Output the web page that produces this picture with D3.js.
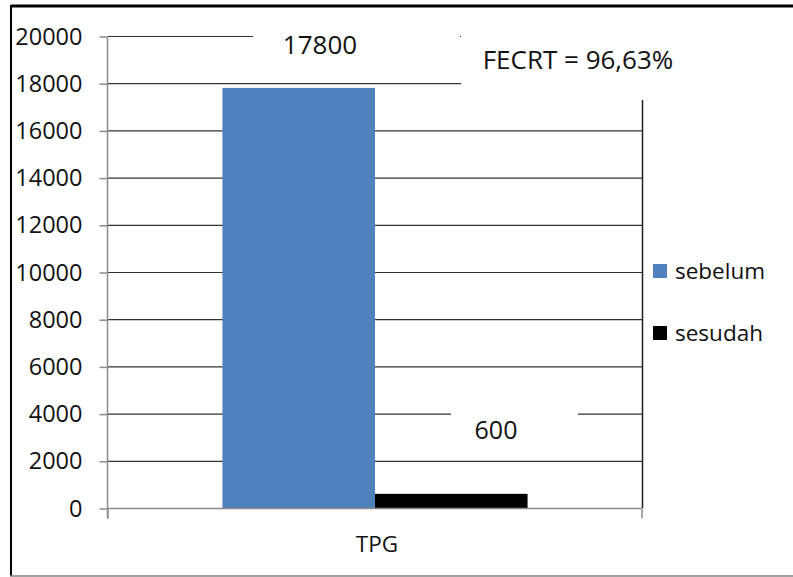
<!DOCTYPE html>
<html>
<head>
<meta charset="utf-8">
<script src="https://cdn.jsdelivr.net/npm/d3@7"></script>
<style>
  body { margin: 0; background: #fff; }
  svg text { font-family: "Open Sans", sans-serif; fill: #111; }
</style>
</head>
<body>
<div id="chart"></div>
<script>
// data
var categories = ['TPG'];
var series = ['sebelum', 'sesudah'];
var values = [17800, 600];
var colors = ['#4F81BD', '#000000'];
var yTicks = [0, 2000, 4000, 6000, 8000, 10000, 12000, 14000, 16000, 18000, 20000];
var note = 'FECRT = 96,63%';

var width = 793, height = 577;
var svg = d3.select('#chart').append('svg')
  .attr('width', width).attr('height', height);

// outer frame
svg.append('line').attr('x1', 11).attr('y1', 6).attr('x2', width).attr('y2', 6)
  .style('stroke', '#000').style('stroke-width', 3);
svg.append('line').attr('x1', 11).attr('y1', 5).attr('x2', 11).attr('y2', 576)
  .style('stroke', '#000').style('stroke-width', 2);
svg.append('line').attr('x1', 10).attr('y1', 576).attr('x2', width).attr('y2', 576)
  .style('stroke', '#808080').style('stroke-width', 1.5);

var pLeft = 108, pRight = 642, pTop = 36, pBottom = 508;

var y = d3.scaleLinear().domain([0, 20000]).range([pBottom, pTop]);
var x0 = d3.scaleBand().domain(categories).range([pLeft, pRight]).paddingInner(0).paddingOuter(0);
// gap width ~75% of one bar on each side
var groupW = x0.bandwidth();
var barW = groupW / (series.length + 0.75 * 2);
var x1 = d3.scaleBand().domain(series)
  .range([x0('TPG') + barW * 0.75, x0('TPG') + groupW - barW * 0.75]);

var g = svg.append('g');

// gridlines
g.selectAll('line.grid').data(yTicks.filter(function(d) { return d > 0; }))
  .enter().append('line').attr('class', 'grid')
  .attr('x1', pLeft).attr('x2', pRight)
  .attr('y1', function(d) { return y(d) + 0.5; })
  .attr('y2', function(d) { return y(d) + 0.5; })
  .style('stroke', '#333').style('stroke-width', 1.2);

// right edge line
g.append('line').attr('x1', pRight + 0.5).attr('x2', pRight + 0.5)
  .attr('y1', 100).attr('y2', pBottom)
  .style('stroke', '#222').style('stroke-width', 1.5);

// bars
g.selectAll('rect.bar').data(values).enter().append('rect').attr('class', 'bar')
  .attr('x', function(d, i) { return x1(series[i]); })
  .attr('width', x1.bandwidth())
  .attr('y', function(d) { return y(d); })
  .attr('height', function(d) { return pBottom - y(d); })
  .style('fill', function(d, i) { return colors[i]; });

// axes
var yAxis = d3.axisLeft(y).tickValues(yTicks).tickSize(8).tickPadding(17).tickFormat(d3.format('d'));
var ya = g.append('g').attr('transform', 'translate(' + (pLeft - 0.5) + ',0.5)').call(yAxis);
ya.select('.domain').attr('d', 'M0,' + pTop + 'V' + (pBottom + 10));
ya.selectAll('line, path').style('stroke', '#8c8c8c').style('stroke-width', 1.5);
ya.selectAll('text').style('font-size', '23.5px').style('fill', '#111');

var xa = g.append('g').attr('transform', 'translate(0,' + (pBottom + 0.5) + ')');
xa.append('line').attr('x1', pLeft).attr('x2', pRight).style('stroke', '#8c8c8c').style('stroke-width', 1.5);
xa.selectAll('line.xt').data([pLeft, pRight]).enter().append('line').attr('class', 'xt')
  .attr('x1', function(d) { return d; }).attr('x2', function(d) { return d; })
  .attr('y1', 0).attr('y2', 10).style('stroke', '#8c8c8c').style('stroke-width', 1.5);
xa.selectAll('text').data(categories).enter().append('text')
  .attr('x', function(d) { return x0(d) + x0.bandwidth() / 2 + 2; })
  .attr('y', 43).attr('text-anchor', 'middle')
  .style('font-size', '22.5px').text(function(d) { return d; });

// data labels with white boxes
var labels = [
  {box: [253, 18, 207, 50], tx: 320, ty: 54, size: 26, text: String(values[0])},
  {box: [451, 398, 127, 46], tx: 496, ty: 439, size: 25, text: String(values[1])},
  {box: [461, 36, 250, 64], tx: 578, ty: 69, size: 26, text: note}
];
labels.forEach(function(l) {
  svg.append('rect').attr('x', l.box[0]).attr('y', l.box[1])
    .attr('width', l.box[2]).attr('height', l.box[3]).style('fill', '#fff');
  svg.append('text').attr('x', l.tx).attr('y', l.ty).attr('text-anchor', 'middle')
    .style('font-size', l.size + 'px').text(l.text);
});

// legend
var leg = svg.append('g').attr('transform', 'translate(653,264)');
var li = leg.selectAll('g').data(series).enter().append('g')
  .attr('transform', function(d, i) { return 'translate(0,' + (i * 62) + ')'; });
li.append('rect').attr('width', 14).attr('height', 14)
  .style('fill', function(d, i) { return colors[i]; });
li.append('text').attr('x', 22).attr('y', 15).style('font-size', '22.5px')
  .text(function(d) { return d; });
</script>
</body>
</html>
